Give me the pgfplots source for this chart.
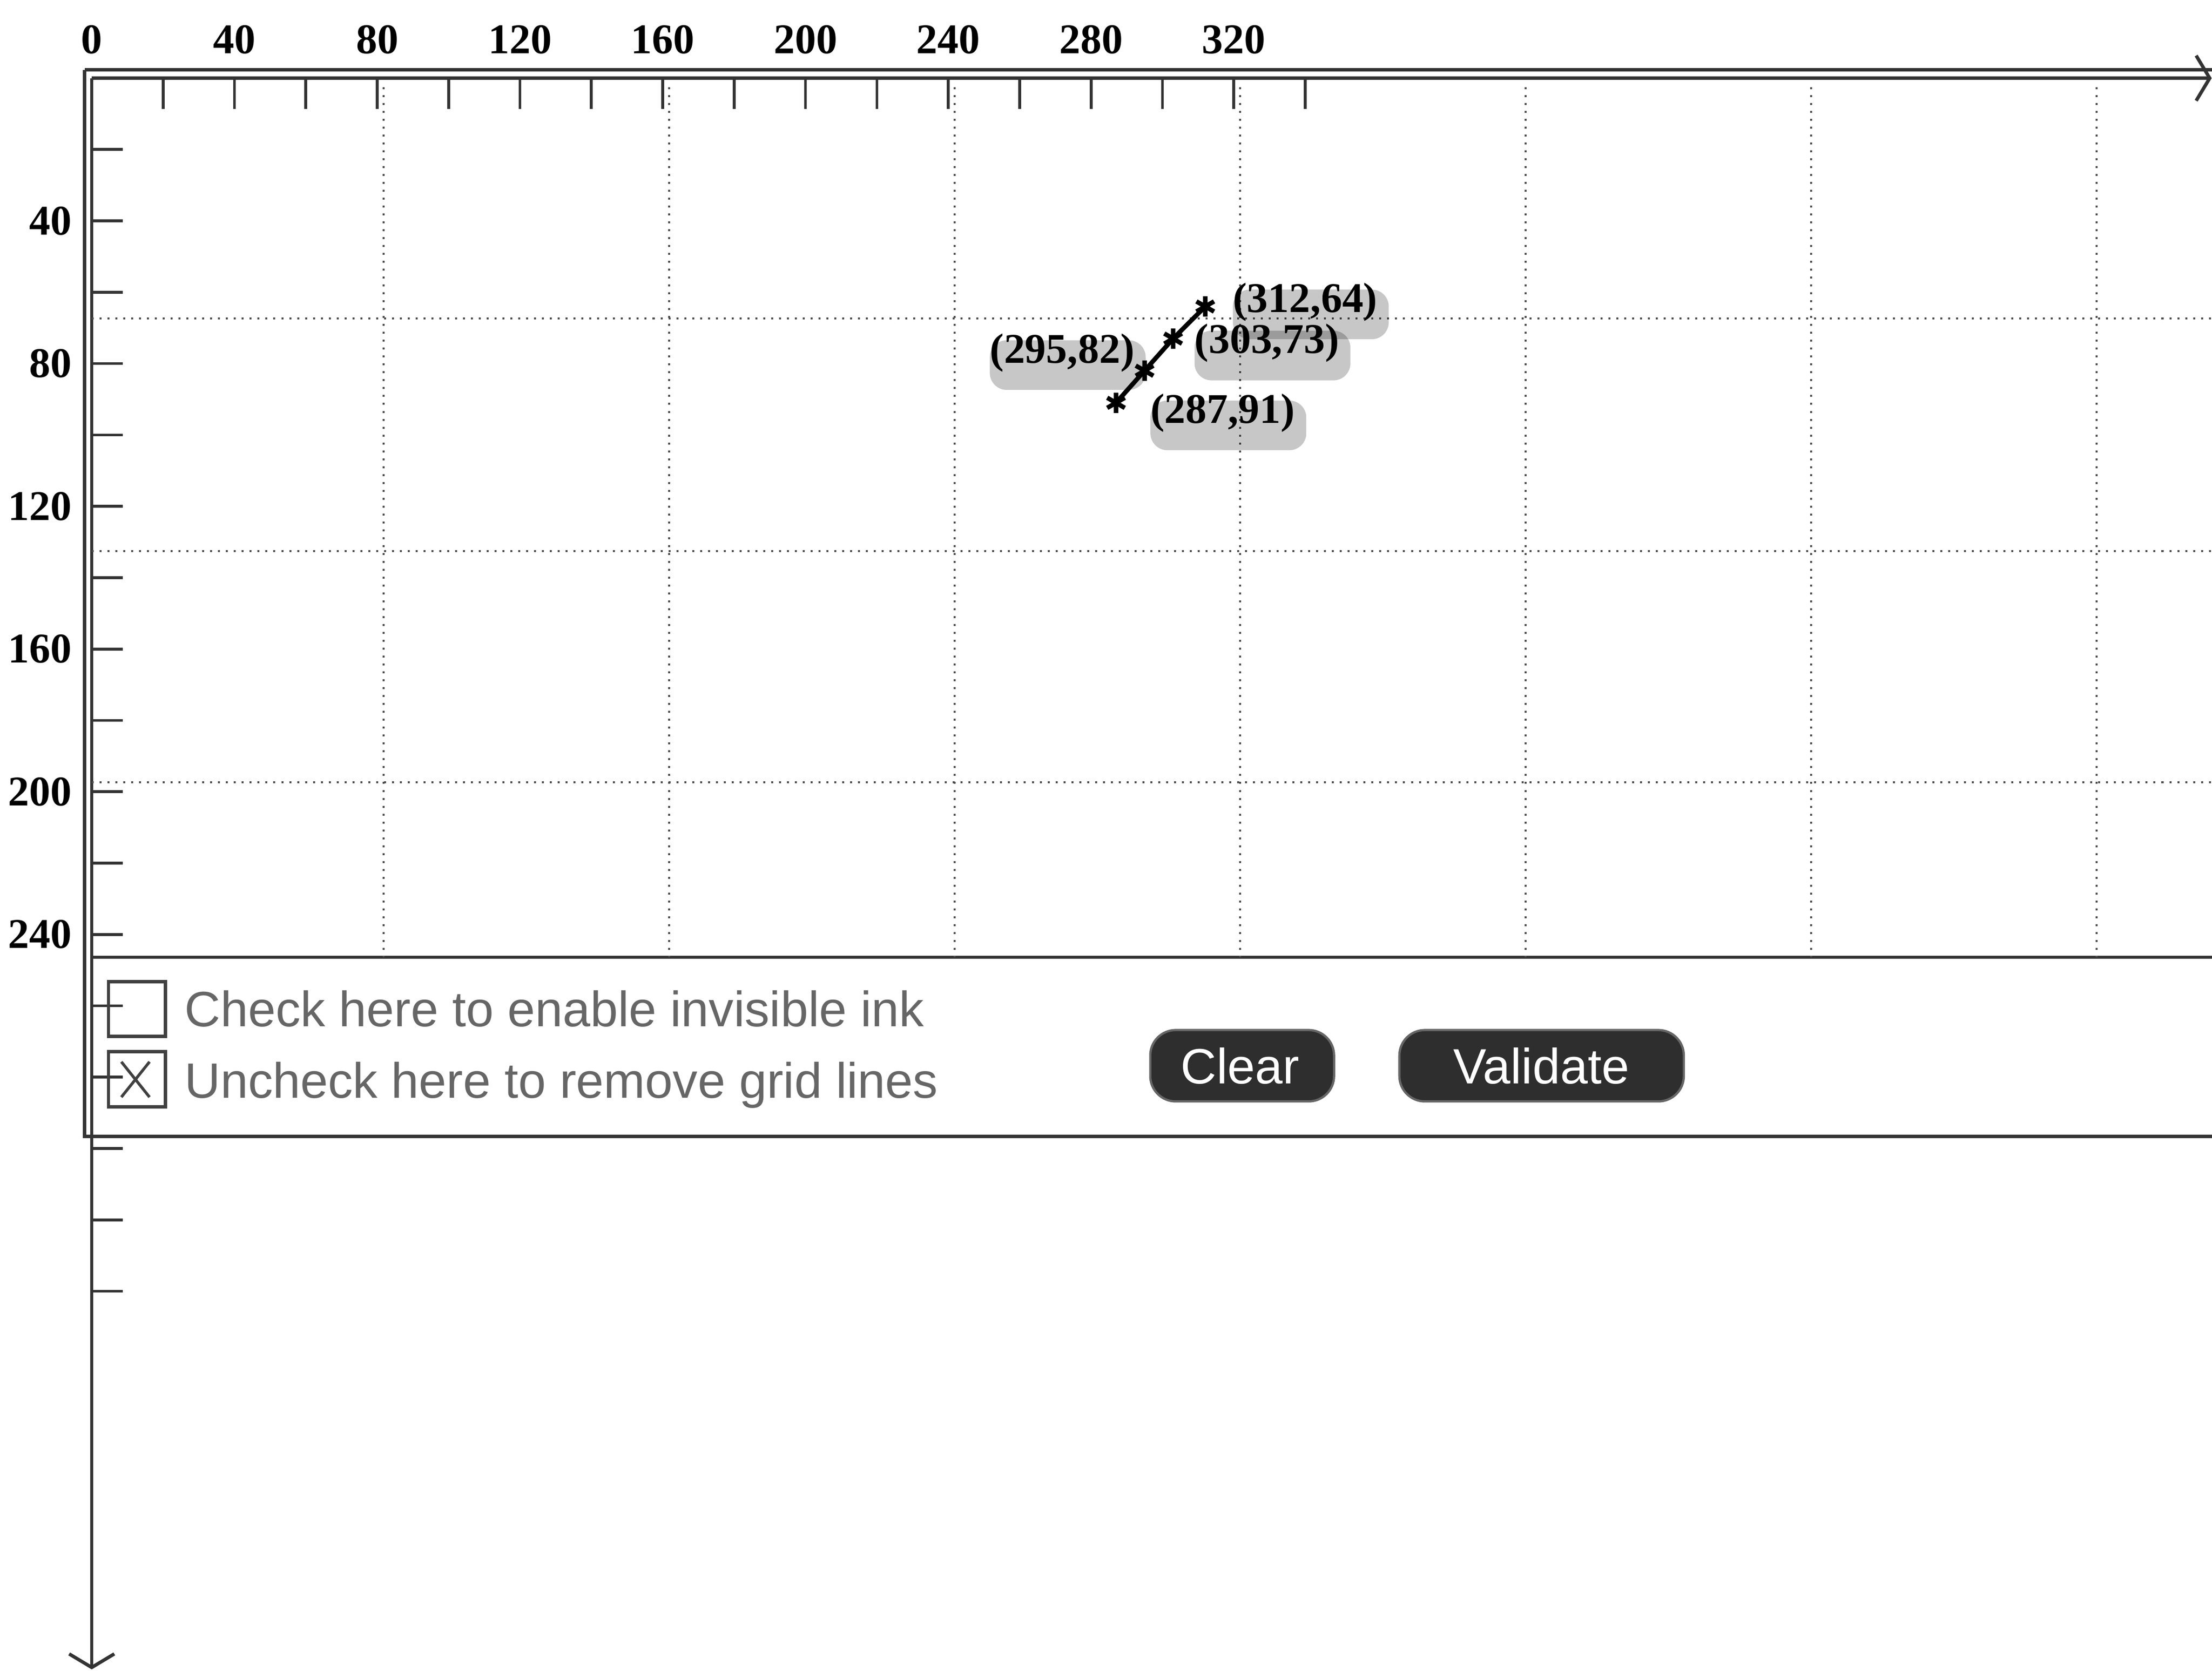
\documentclass[border=0pt]{standalone}
\usepackage{fontspec}
\setmainfont{Liberation Serif}
\newfontfamily\uisans{Liberation Sans}
\usepackage{pgfplots}
\pgfplotsset{compat=1.18}
\usetikzlibrary{arrows.meta,shadows}

\tikzset{
  gline/.style={black!70, line width=0.35pt, dash pattern=on 0.35pt off 1.05pt},
  frm/.style={black!80, line width=0.6pt},
  cbox/.style={black!75, line width=0.6pt},
  btn/.style={fill=black!82, draw=black!60, line width=0.4pt, rounded corners=4.5pt},
  lbl/.style={font=\bfseries\fontsize{7.5}{8}\selectfont, inner sep=1pt, rounded corners=3pt,
    drop shadow={shadow xshift=1pt, shadow yshift=-2.2pt, opacity=0.22, fill=black}},
  uitext/.style={font=\uisans\fontsize{8.8}{10}\selectfont, inner sep=0pt},
}

\begin{document}
\begin{tikzpicture}
\begin{axis}[
  scale only axis,
  width=375.7pt, height=282.1pt,
  xmin=0, xmax=594, ymin=0, ymax=446,
  y dir=reverse,
  clip=false,
  axis x line*=top,
  axis y line*=left,
  axis line style={black!80, line width=0.6pt},
  x axis line style={-{Straight Barb[length=2.4pt,width=8pt]}},
  y axis line style={-{Straight Barb[length=2.4pt,width=8pt]}},
  tick align=inside,
  major tick length=5.5pt,
  tick style={black!80, line width=0.5pt},
  xtick={0,20,...,340},
  xticklabels={0,,40,,80,,120,,160,,200,,240,,280,,320,},
  ytick={20,40,...,340},
  yticklabels={,40,,80,,120,,160,,200,,240,,,,,},
  ticklabel style={font=\bfseries\fontsize{7.5}{8}\selectfont},
  xticklabel style={yshift=0.8pt},
  /pgf/number format/assume math mode=true,
]
% page corners
\coordinate (bbA) at (axis cs:-25.7,-21.9);
\coordinate (bbB) at (axis cs:594.1,446.4);

% window frame and control panel
\draw[frm] (axis cs:-2,-2.3) -- (axis cs:600,-2.3);
\draw[frm] (axis cs:-2,-2.3) -- (axis cs:-2,296.6) -- (axis cs:600,296.6);
\draw[frm] (axis cs:0,246.4) -- (axis cs:600,246.4);

% grid lines
\pgfplotsinvokeforeach{81.8,161.8,241.8,321.8,401.8,481.8,561.8}{
  \draw[gline] (axis cs:#1,2.5) -- (axis cs:#1,246.4);
}
\pgfplotsinvokeforeach{67.4,132.6,197.4}{
  \draw[gline] (axis cs:0,#1) -- (axis cs:594,#1);
}

% drawn stroke
\addplot[black, line width=0.8pt, mark=asterisk, mark size=1.8pt,
  mark options={line width=0.8pt}]
  coordinates {(287,91) (295,82) (303,73) (312,64)};

\node[lbl, anchor=west, xshift=3.7pt, yshift=0.8pt] at (axis cs:312,64) {(312,64)};
\node[lbl, anchor=west, xshift=2.6pt, yshift=-0.8pt] at (axis cs:303,73) {(303,73)};
\node[lbl, anchor=east, xshift=-0.6pt, yshift=3.2pt] at (axis cs:295,82) {(295,82)};
\node[lbl, anchor=west, xshift=4.9pt, yshift=-1.8pt] at (axis cs:287,91) {(287,91)};

% check boxes
\draw[cbox] (axis cs:4.7,253.2) rectangle (axis cs:20.6,268.6);
\draw[cbox] (axis cs:4.7,272.8) rectangle (axis cs:20.6,288.3);
\draw[cbox, line width=0.5pt] (axis cs:8.3,275.7) -- (axis cs:16.2,285.6);
\draw[cbox, line width=0.5pt] (axis cs:8.3,285.6) -- (axis cs:16.2,275.7);
\node[uitext, anchor=base west, text=black!60] at (axis cs:25.7,265.8) {Check here to enable invisible ink};
\node[uitext, anchor=base west, text=black!60] at (axis cs:25.7,285.8) {Uncheck here to remove grid lines};

% buttons
\draw[btn] (axis cs:296.6,266.8) rectangle (axis cs:348.1,286.8);
\draw[btn] (axis cs:366.4,266.8) rectangle (axis cs:446.1,286.8);
\node[uitext, text=white] at (axis cs:321.8,276.9) {Clear};
\node[uitext, text=white] at (axis cs:406.2,276.9) {Validate};
\end{axis}
\pgfresetboundingbox
\path[use as bounding box] (bbA) rectangle (bbB);
\end{tikzpicture}
\end{document}
